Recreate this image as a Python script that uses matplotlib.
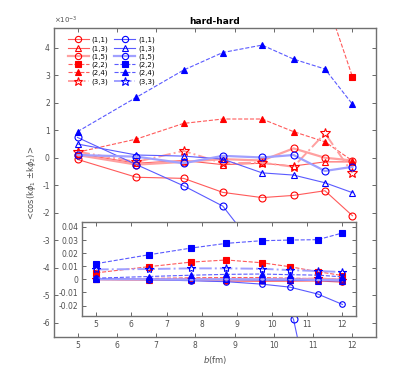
import numpy as np
import matplotlib
matplotlib.use("Agg")
import matplotlib.pyplot as plt

# impact parameter b (fm)
b = [5.0, 6.5, 7.7, 8.7, 9.7, 10.5, 11.3, 12.0]

# <cos(k phi1 +- k phi2)>, units of 1e-3
red_11 = [-0.06, -0.71, -0.75, -1.26, -1.45, -1.37, -1.20, -2.11]
red_13 = [0.15, -0.20, -0.10, -0.25, -0.20, -0.30, -0.15, -0.15]
red_15 = [0.10, -0.25, -0.15, -0.05, -0.10, 0.34, 0.00, -0.10]
red_22 = [5.0, 9.7, 13.2, 14.8, 12.7, 9.7, 5.9, 2.95]
red_24 = [0.20, 0.68, 1.25, 1.41, 1.41, 0.95, 0.58, -0.11]
red_33 = [0.22, -0.15, 0.25, -0.20, -0.18, -0.33, 0.89, -0.55]

blue_11 = [0.74, -0.25, -1.02, -1.76, -3.6, -5.88, -11.2, -19.1]
blue_13 = [0.50, 0.10, 0.06, -0.05, -0.55, -0.63, -0.91, -1.27]
blue_15 = [0.10, 0.04, -0.20, 0.07, 0.01, 0.10, -0.48, -0.33]
blue_22 = [12.0, 18.8, 23.9, 27.5, 29.5, 30.0, 30.3, 35.4]
blue_24 = [0.95, 2.20, 3.19, 3.83, 4.10, 3.59, 3.23, 1.95]
blue_33 = [7.6, 7.9, 8.4, 8.4, 8.1, 7.1, 6.4, 5.6]

labels = ['(1,1)', '(1,3)', '(1,5)', '(2,2)', '(2,4)', '(3,3)']
red_sets = [red_11, red_13, red_15, red_22, red_24, red_33]
blue_sets = [blue_11, blue_13, blue_15, blue_22, blue_24, blue_33]

# marker, linestyle, filled, linewidth
styles = [('o', '-', False, 0.8),
          ('^', '-', False, 0.8),
          ('o', '-', False, 1.6),
          ('s', '--', True, 0.8),
          ('^', '--', True, 0.8),
          ('*', '-.', False, 1.4)]

red_line = ['#ff5a5a', '#ff5a5a', '#ffa0a0', '#ff5a5a', '#ff5a5a', '#ffa0a0']
blue_line = ['#5a5aff', '#5a5aff', '#a0a0ff', '#5a5aff', '#5a5aff', '#a0a0ff']

plt.rcParams['font.family'] = 'DejaVu Sans'
plt.rcParams['axes.unicode_minus'] = False
fig = plt.figure(figsize=(4.15, 3.79), dpi=100)
ax = fig.add_axes([0.130, 0.111, 0.776, 0.815])
axin = fig.add_axes([0.198, 0.166, 0.661, 0.249], zorder=5)
axin.set_facecolor('white')


def draw(a, scale, ms):
    for sets, mcol, lcols in [(red_sets, 'red', red_line), (blue_sets, 'blue', blue_line)]:
        for k in range(6):
            mk, ls, filled, lw = styles[k]
            y = np.array(sets[k]) * scale
            msize = ms + 2 if mk == '*' else ms
            a.plot(b, y, linestyle=ls, color=lcols[k], linewidth=lw,
                   marker=mk, markersize=msize, markeredgecolor=mcol,
                   markerfacecolor=mcol if filled else 'none',
                   markeredgewidth=0.8, label=labels[k])


draw(ax, 1.0, 5)
draw(axin, 1e-3, 4)

gray = '#505050'
for a in (ax, axin):
    a.tick_params(direction='in', top=True, right=True, labelsize=5.5,
                  colors=gray, length=3, width=0.6, pad=3)
    for s in a.spines.values():
        s.set_color('#707070')
        s.set_linewidth(1.0)

ax.set_xlim(4.4, 12.6)
ax.set_ylim(-6.52, 4.72)
ax.set_xticks(range(5, 13))
ax.set_yticks(range(-6, 5))
ax.set_xlabel(r'$b$(fm)', fontsize=6, color=gray, labelpad=3)
ax.set_ylabel(r'<cos(k$\phi_1$ $\pm$k$\phi_2$)>', fontsize=6, color=gray, labelpad=3)
ax.set_title('hard-hard', fontsize=6.5, fontweight='bold', pad=3)
ax.text(0.0, 1.006, r'$\times10^{-3}$', transform=ax.transAxes, fontsize=5,
        color=gray, ha='left', va='bottom')

axin.set_xlim(4.6, 12.4)
axin.set_ylim(-0.028, 0.044)
axin.set_xticks(range(5, 13))
axin.set_yticks([-0.02, -0.01, 0, 0.01, 0.02, 0.03, 0.04])
axin.set_yticklabels(['-0.02', '-0.01', '0', '0.01', '0.02', '0.03', '0.04'])

ax.legend(ncol=2, loc='upper left', bbox_to_anchor=(0.03, 0.985), frameon=False,
          fontsize=5, handlelength=3.0, columnspacing=0.9, labelspacing=0.25,
          handletextpad=0.4, borderaxespad=0.2, markerscale=0.9)

fig.savefig('out.png', dpi=100)
